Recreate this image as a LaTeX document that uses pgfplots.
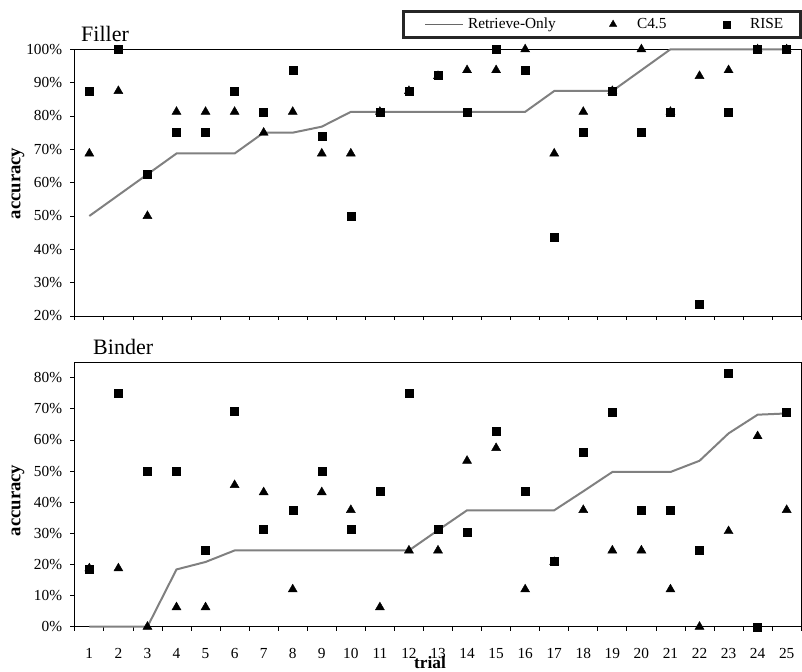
\documentclass[border=0pt]{standalone}
\usepackage{fontspec}
\setmainfont{Liberation Serif}
\usepackage{pgfplots}
\usepackage{pgfplotstable}
\pgfplotsset{compat=1.18}

\definecolor{linegray}{RGB}{128,128,128}

\pgfplotstableread{
t ro c45 rise
1 50 68.75 87.5
2 56.25 87.5 100
3 62.5 50 62.5
4 68.75 81.25 75
5 68.75 81.25 75
6 68.75 81.25 87.5
7 75 75 81.25
8 75 81.25 93.75
9 76.8 68.75 74
10 81.25 68.75 50
11 81.25 81.25 81.25
12 81.25 87.5 87.5
13 81.25 92 92.3
14 81.25 93.75 81.25
15 81.25 93.75 100
16 81.25 100 93.75
17 87.5 68.75 43.75
18 87.5 81.25 75
19 87.5 87.5 87.5
20 93.75 100 75
21 100 81.25 81.25
22 100 92 23.5
23 100 93.75 81.25
24 100 100 100
25 100 100 100
}\filler

\pgfplotstableread{
t ro c45 rise
1 0 18.75 18.4
2 0 18.75 75
3 0 0 50
4 18.4 6.25 50
5 20.8 6.25 24.6
6 24.5 45.5 69.3
7 24.5 43.2 31.2
8 24.5 12 37.5
9 24.5 43.2 50
10 24.5 37.5 31.2
11 24.5 6.25 43.6
12 24.5 24.5 75
13 31 24.5 31.2
14 37.4 53.3 30.5
15 37.4 57.4 62.9
16 37.4 12 43.6
17 37.4 20.8 20.9
18 43.5 37.5 55.9
19 49.7 24.5 68.8
20 49.7 24.5 37.5
21 49.7 12 37.5
22 53.3 0 24.6
23 62.1 30.7 81.3
24 68.1 61.2 0
25 68.5 37.5 68.8
}\binder

\pgfplotsset{
  myaxis/.style={
    scale only axis,
    width=544.8pt,
    xmin=0.5, xmax=25.5,
    xtick={1,...,25},
    minor xtick={0.5,1.5,...,25.5},
    major x tick style={draw=none},
    tick align=outside,
    tick pos=left,
    major tick length=3.5pt,
    minor tick length=3pt,
    axis line style={black, line width=0.6pt},
    tick style={black, line width=0.6pt},
    clip=false,
    ylabel={accuracy},
    ylabel style={font=\bfseries\fontsize{14}{16}\selectfont},
    ticklabel style={font=\fontsize{11.5}{13}\selectfont},
    yticklabel style={xshift=-2.5pt},
  },
  rostyle/.style={color=linegray, line width=1.5pt, no markers,
    legend image code/.code={\path[draw=none] (0pt,0pt) -- (48.75pt,0pt);
      \draw[linegray!80!black, line width=0.6pt] (16.5pt,0pt) -- (45pt,0pt);}},
  c45style/.style={only marks, mark=triangle*, mark size=3.9pt, black,
    mark options={fill=black, draw=black, line width=0.3pt},
    legend image code/.code={\path[draw=none] (-3.5pt,0pt) -- (18pt,0pt);
      \path[black, fill=black, line width=0.3pt] plot[mark=triangle*, mark size=3.2pt] coordinates {(0pt,0pt)};}},
  risestyle/.style={only marks, mark=square*, mark size=3pt, black,
    mark options={fill=black, draw=black, line width=0.3pt},
    legend image code/.code={\path[draw=none] (-2.6pt,0pt) -- (17.25pt,0pt);
      \path[black, fill=black, line width=0.3pt] plot[mark=square*, mark size=2.6pt] coordinates {(0pt,0pt)};}},
}

\begin{document}
\begin{tikzpicture}
\path[use as bounding box] (0pt,0pt) rectangle (601.5pt,503.25pt);

% Filler
\begin{axis}[myaxis,
  at={(56.1pt,266.25pt)}, anchor=south west,
  height=200pt,
  ymin=20, ymax=100,
  ytick={20,30,...,100},
  yticklabels={20\%,30\%,40\%,50\%,60\%,70\%,80\%,90\%,100\%},
  xticklabels={},
  ylabel style={at={(axis description cs:-0.0782,0.497)}, anchor=center},
  legend style={at={(0.7252,1.0936)}, anchor=center, legend columns=3,
    draw=black!85, line width=2.2pt, inner xsep=0pt, inner ysep=4.25pt,
    column sep=0pt,
    nodes={inner sep=0pt, text height=8.5pt, text depth=2.5pt},
    font=\fontsize{11.5}{13}\selectfont},
]
\addplot[rostyle] table[x=t, y=ro] {\filler};
\addlegendentry{\makebox[105.25pt][l]{Retrieve-Only}}
\addplot[c45style] table[x=t, y=c45] {\filler};
\addlegendentry{\makebox[64.9pt][l]{C4.5}}
\addplot[risestyle] table[x=t, y=rise] {\filler};
\addlegendentry{\makebox[37.5pt][l]{RISE}}
\node[anchor=base west, font=\fontsize{16.5}{18}\selectfont, inner sep=0pt]
  at (axis description cs:0.0085,1) [yshift=6.2pt] {Filler};
\end{axis}

% Binder
\begin{axis}[myaxis,
  at={(56.1pt,33.2pt)}, anchor=south west,
  height=198.5pt,
  ymin=0, ymax=85,
  ytick={0,10,...,80},
  yticklabels={0\%,10\%,20\%,30\%,40\%,50\%,60\%,70\%,80\%},
  xticklabels={1,2,3,4,5,6,7,8,9,10,11,12,13,14,15,16,17,18,19,20,21,22,23,24,25},
  xticklabel style={inner sep=0.5pt, yshift=-12.3pt},
  xlabel={trial},
  xlabel style={at={(axis description cs:0.489,0)}, anchor=base, yshift=-31.5pt,
    font=\bfseries\fontsize{13}{15}\selectfont, inner sep=0pt},
  ylabel style={at={(axis description cs:-0.0782,0.477)}, anchor=center},
]
\addplot[rostyle] table[x=t, y=ro] {\binder};
\addplot[c45style] table[x=t, y=c45] {\binder};
\addplot[risestyle] table[x=t, y=rise] {\binder};
\node[anchor=base west, font=\fontsize{16.5}{18}\selectfont, inner sep=0pt]
  at (axis description cs:0.025,1) [yshift=6pt] {Binder};
\end{axis}
\end{tikzpicture}
\end{document}
